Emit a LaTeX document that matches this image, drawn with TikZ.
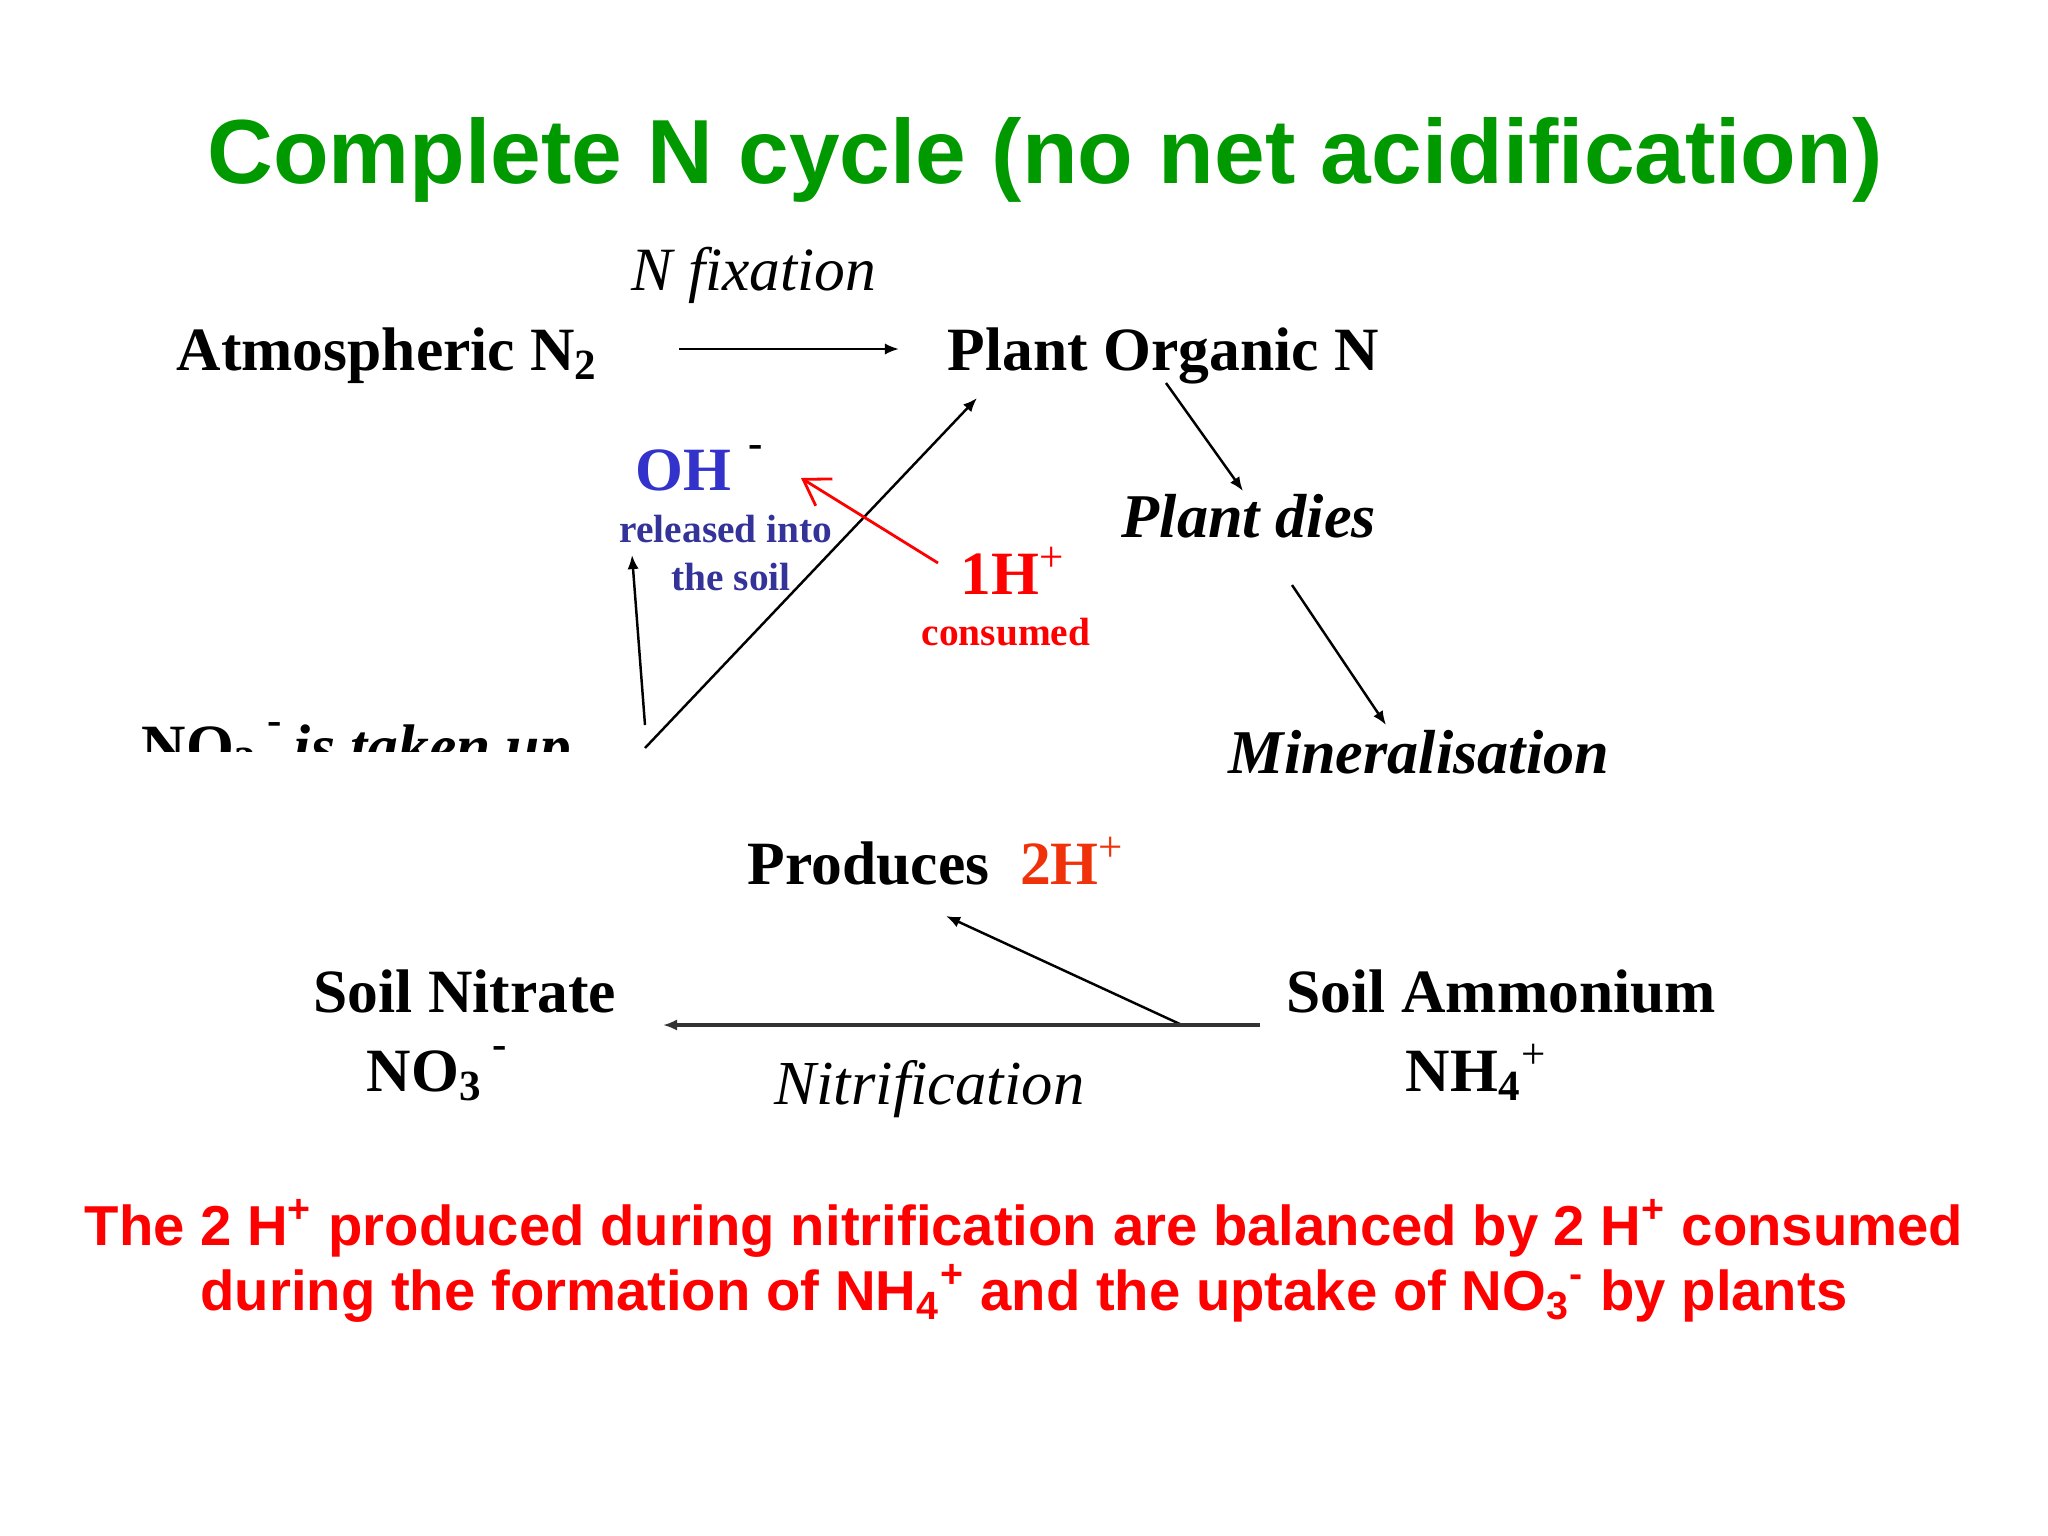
\documentclass[tikz,border=0pt]{standalone}
\usepackage{fontspec}
\setmainfont{Liberation Serif}
\newfontfamily\headfont{Liberation Sans}
\usetikzlibrary{arrows.meta}
\definecolor{titlegreen}{RGB}{0,153,0}
\definecolor{ohblue}{RGB}{51,51,204}
\definecolor{soilblue}{RGB}{51,51,153}
\definecolor{hred}{RGB}{255,0,0}
\definecolor{hnitr}{RGB}{240,50,10}
\tikzset{
  lab/.style={anchor=base west,inner sep=0pt,font=\fontsize{17.5}{21}\selectfont\bfseries},
  small/.style={anchor=base,inner sep=0pt,font=\fontsize{11.2}{13}\selectfont\bfseries},
  flow/.style={line width=0.7pt,-{Latex[length=4pt,width=3.2pt]}},
  note/.style={anchor=base,inner sep=0pt,text=hred,font=\headfont\fontsize{16}{19}\selectfont\bfseries}
}
\begin{document}
\begin{tikzpicture}[x=0.01cm,y=-0.01cm]
\useasboundingbox[fill=white] (0,0) rectangle (2048,1536);
\node[anchor=base,inner sep=0pt,text=titlegreen,font=\headfont\fontsize{25.9}{30}\selectfont\bfseries] (title) at (1045,183) {Complete N cycle (no net acidification)};

\node[lab,font=\fontsize{17.5}{21}\selectfont\itshape] (fix) at (631,290) {N fixation};
\node[lab] (atm) at (176,370) {Atmospheric N\textsubscript{2}};
\node[lab] (plant) at (947,370) {Plant Organic N};
\node[lab,font=\fontsize{17.7}{21}\selectfont\bfseries\itshape] (dies) at (1121,537) {Plant dies};
\node[lab,font=\fontsize{17.7}{21}\selectfont\bfseries\itshape] (miner) at (1228,773) {Mineralisation};

\node[lab,text=ohblue] (oh) at (635,490) {OH\,\textcolor{black}{\raisebox{3pt}{\textsuperscript{\,-}}}};
\node[small,text=soilblue] (rel1) at (726,542) {released into};
\node[small,text=soilblue] (rel2) at (731,590) {the soil};
\node[lab,text=hred] (h1) at (960,594) {1H\textsuperscript{\mdseries +}};
\node[small,text=hred] (cons) at (1006,645) {consumed};

\begin{scope}
\clip (0,0) rectangle (2048,751);
\node[lab] (uptake) at (141,767) {NO\textsubscript{3}\,\raisebox{3pt}{\textsuperscript{-}}\,\textit{is taken up}};
\end{scope}

\node[lab] (prod) at (747,884) {Produces\enspace\textcolor{hnitr}{2H\textsuperscript{\mdseries +}}};
\node[lab] (nitrate) at (313,1012) {Soil Nitrate};
\node[lab] (no3) at (366,1091) {NO\textsubscript{3}\,\raisebox{3pt}{\textsuperscript{-}}};
\node[lab,font=\fontsize{17.8}{21}\selectfont\itshape] (nitrif) at (774,1104) {Nitrification};
\node[lab] (ammon) at (1286,1012) {Soil Ammonium};
\node[lab] (nh4) at (1405,1091) {NH\textsubscript{4}\textsuperscript{\mdseries +}};

\coordinate (f1) at (679,349);
\coordinate (f2) at (899,349);
\coordinate (d1) at (1166,383);
\coordinate (d2) at (1243,491);
\coordinate (m1) at (1292,585);
\coordinate (m2) at (1386,725);
\coordinate (u0) at (645,748);
\coordinate (u1) at (977,398);
\coordinate (o0) at (645,725);
\coordinate (o1) at (632,555);
\coordinate (r0) at (938,563);
\coordinate (r1) at (801,478);
\coordinate (n0) at (1260,1025);
\coordinate (n1) at (663,1025);
\coordinate (p0) at (1182,1025);
\coordinate (p1) at (946,916);

\draw[flow] (f1)--(f2);
\draw[flow] (d1)--(d2);
\draw[flow] (m1)--(m2);
\draw[flow] (u0)--(u1);
\draw[flow] (o0)--(o1);
\draw[flow] (p0)--(p1);
\draw[flow,line width=1.1pt,draw=black!80] (n0)--(n1);
\draw[line width=0.8pt,draw=hred,-{Straight Barb[length=7pt,width=9pt]}] (r0)--(r1);

\node[note] (note1) at (1024,1245) {The 2 H\textsuperscript{+} produced during nitrification are balanced by 2 H\textsuperscript{+} consumed};
\node[note] (note2) at (1024,1310) {during the formation of NH\textsubscript{4}\textsuperscript{+} and the uptake of NO\textsubscript{3}\textsuperscript{-} by plants};
\end{tikzpicture}
\end{document}
